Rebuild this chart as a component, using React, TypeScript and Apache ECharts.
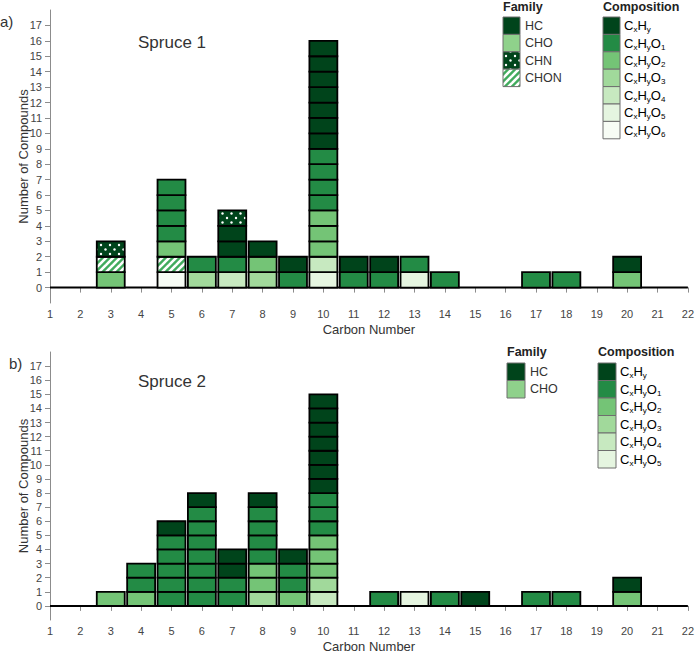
import React, { useEffect, useRef } from 'react';
import * as echarts from 'echarts';

// ---------- data ----------
const carbonTicks = [1, 22];
const yTickValues = [0, 1, 2, 3, 4, 5, 6, 7, 8, 9, 10, 11, 12, 13, 14, 15, 16, 17];

const spruce1Carbon = [3, 5, 6, 7, 8, 9, 10, 11, 12, 13, 14, 17, 18, 20];
const spruce1Stacks = [
  ['O2', 'CHON', 'CHN'],
  ['O6', 'CHON', 'O2', 'O1', 'O1', 'O1', 'O1'],
  ['O3', 'O1'],
  ['O4', 'O1', 'HC', 'HC', 'CHN'],
  ['O3', 'O2', 'HC'],
  ['O1', 'HC'],
  ['O5', 'O4', 'O2', 'O2', 'O2', 'O1', 'O1', 'O1', 'O1', 'HC', 'HC', 'HC', 'HC', 'HC', 'HC', 'HC'],
  ['O1', 'HC'],
  ['O1', 'HC'],
  ['O5', 'O1'],
  ['O1'],
  ['O1'],
  ['O1'],
  ['O2', 'HC'],
];

const spruce2Carbon = [3, 4, 5, 6, 7, 8, 9, 10, 12, 13, 14, 15, 17, 18, 20];
const spruce2Stacks = [
  ['O2'],
  ['O2', 'O1', 'O1'],
  ['O1', 'O1', 'O1', 'O1', 'O1', 'HC'],
  ['O1', 'O1', 'O1', 'O1', 'O1', 'O1', 'O1', 'HC'],
  ['O1', 'O1', 'HC', 'HC'],
  ['O3', 'O2', 'O2', 'O1', 'O1', 'O1', 'O1', 'HC'],
  ['O2', 'O1', 'O1', 'HC'],
  ['O4', 'O3', 'O2', 'O2', 'O2', 'O1', 'O1', 'O1', 'HC', 'HC', 'HC', 'HC', 'HC', 'HC', 'HC'],
  ['O1'],
  ['O5'],
  ['O1'],
  ['HC'],
  ['O1'],
  ['O1'],
  ['O2', 'HC'],
];

const family1 = [['HC', 'HC'], ['CHO', 'CHO'], ['CHN', 'CHN'], ['CHON', 'CHON']];
const family2 = [['HC', 'HC'], ['CHO', 'CHO']];
const comp1 = ['HC', 'O1', 'O2', 'O3', 'O4', 'O5', 'O6'];
const comp2 = ['HC', 'O1', 'O2', 'O3', 'O4', 'O5'];

const COLORS: Record<string, string> = {
  HC: '#00441b',
  O1: '#238b45',
  O2: '#74c476',
  O3: '#a1d99b',
  O4: '#c7e9c0',
  O5: '#e5f5e0',
  O6: '#f7fcf5',
  CHO: '#8fd18b',
};

function makeDots() {
  const c = document.createElement('canvas');
  c.width = 9;
  c.height = 9;
  const g = c.getContext('2d')!;
  g.fillStyle = COLORS.HC;
  g.fillRect(0, 0, 9, 9);
  g.fillStyle = '#ffffff';
  g.beginPath();
  g.arc(2, 2, 1.2, 0, Math.PI * 2);
  g.fill();
  g.beginPath();
  g.arc(6.5, 6.5, 1.2, 0, Math.PI * 2);
  g.fill();
  return c;
}

function makeStripes() {
  const s = 7;
  const c = document.createElement('canvas');
  c.width = s;
  c.height = s;
  const g = c.getContext('2d')!;
  g.fillStyle = '#41ab5d';
  g.fillRect(0, 0, s, s);
  g.strokeStyle = '#ffffff';
  g.lineWidth = 2.6;
  for (const k of [0, s, 2 * s]) {
    g.beginPath();
    g.moveTo(-1, k + 1);
    g.lineTo(k + 1, -1);
    g.stroke();
  }
  return c;
}

function buildItems(carbons: number[], stacks: string[][]) {
  const items: { value: number[]; code: string }[] = [];
  carbons.forEach((c, i) => {
    stacks[i].forEach((code, j) => {
      items.push({ value: [c, j, j + 1], code });
    });
  });
  return items;
}

function compLabel(code: string) {
  if (code === 'HC') return '{n|C}{s|x}{n|H}{s|y}';
  return '{n|C}{s|x}{n|H}{s|y}{n|O}{s|' + code.slice(1) + '}';
}

export default function App() {
  const ref = useRef<HTMLDivElement>(null);

  useEffect(() => {
    if (!ref.current) return;
    const chart = echarts.init(ref.current, null, { renderer: 'svg' });
    const dots = makeDots();
    const stripes = makeStripes();
    const fillFor = (code: string): any => {
      if (code === 'CHN') return { image: dots, repeat: 'repeat', imageWidth: 9, imageHeight: 9 };
      if (code === 'CHON') return { image: stripes, repeat: 'repeat', imageWidth: 7, imageHeight: 7 };
      return COLORS[code];
    };

    const font = 'Liberation Sans, Arial, sans-serif';
    const items1 = buildItems(spruce1Carbon, spruce1Stacks);
    const items2 = buildItems(spruce2Carbon, spruce2Stacks);

    const makeRender = (items: { value: number[]; code: string }[]) => (params: any, api: any) => {
      const x = api.value(0);
      const y0 = api.value(1);
      const y1 = api.value(2);
      const p0 = api.coord([x - 0.46, y0]);
      const p1 = api.coord([x + 0.46, y1]);
      return {
        type: 'rect',
        shape: { x: p0[0], y: p1[1], width: p1[0] - p0[0], height: p0[1] - p1[1] },
        style: { fill: fillFor(items[params.dataIndex].code), stroke: '#000', lineWidth: 1.8 },
      };
    };

    const xAxisCommon = (gridIndex: number) => ({
      type: 'value',
      gridIndex,
      min: carbonTicks[0],
      max: carbonTicks[1],
      interval: 1,
      name: 'Carbon Number',
      nameLocation: 'middle',
      nameGap: 20,
      nameMoveOverlap: false,
      nameTextStyle: { fontFamily: font, fontSize: 13, color: '#333' },
      axisLine: { lineStyle: { color: '#8c8c8c', width: 1 } },
      axisTick: { length: 5, lineStyle: { color: '#8c8c8c' } },
      axisLabel: { fontFamily: font, fontSize: 11, color: '#444', margin: 5 },
      splitLine: { show: false },
    });

    const yAxisCommon = (gridIndex: number) => ({
      type: 'value',
      gridIndex,
      min: -1,
      max: 18,
      interval: 1,
      name: 'Number of Compounds',
      nameLocation: 'middle',
      nameGap: 20,
      nameMoveOverlap: false,
      nameTextStyle: { fontFamily: font, fontSize: 13, color: '#333' },
      axisLine: { show: true, lineStyle: { color: '#8c8c8c', width: 1 } },
      axisTick: { show: true, length: 5, lineStyle: { color: '#8c8c8c' }, customValues: yTickValues },
      axisLabel: {
        fontFamily: font,
        fontSize: 11,
        color: '#444',
        margin: 8,
        customValues: yTickValues,
        formatter: (v: number) => (v < 0 || v > 17 ? '' : String(v)),
      },
      splitLine: { show: false },
    });

    const rich = {
      n: { fontFamily: font, fontSize: 13, color: '#333', lineHeight: 16, verticalAlign: 'middle' },
      s: { fontFamily: font, fontSize: 8, color: '#333', verticalAlign: 'bottom' },
    };

    const graphics: any[] = [];
    const addText = (text: string, x: number, y: number, size: number, weight = 'normal') => {
      graphics.push({
        type: 'text',
        x,
        y,
        style: {
          text,
          fontFamily: font,
          fontSize: size,
          fontWeight: weight,
          fill: weight === 'bold' ? '#222' : '#333',
          textAlign: 'left',
          textVerticalAlign: 'middle',
          verticalAlign: 'middle',
        },
      });
    };
    const addLegend = (
      fam: string[][],
      comp: string[],
      famX: number,
      compX: number,
      titleY: number,
      top: number,
      w: number,
      h: number,
    ) => {
      addText('Family', famX, titleY, 12.5, 'bold');
      addText('Composition', compX, titleY, 12.5, 'bold');
      fam.forEach(([label, code], i) => {
        graphics.push({
          type: 'rect',
          shape: { x: famX, y: top + i * h, width: w, height: h },
          style: { fill: fillFor(code), stroke: '#6e6e6e', lineWidth: 1 },
        });
        addText(label, famX + w + 5, top + i * h + h / 2, 12.5);
      });
      comp.forEach((code, i) => {
        graphics.push({
          type: 'rect',
          shape: { x: compX, y: top + i * h, width: w, height: h },
          style: { fill: fillFor(code), stroke: '#6e6e6e', lineWidth: 1 },
        });
        graphics.push({
          type: 'text',
          x: compX + w + 4,
          y: top + i * h + h / 2,
          style: {
            text: compLabel(code),
            rich,
            textAlign: 'left',
            textVerticalAlign: 'middle',
            verticalAlign: 'middle',
          },
        });
      });
    };

    addText('a)', 0, 21, 15);
    addText('b)', 9, 363, 15);
    addText('Spruce 1', 138, 42, 17);
    addText('Spruce 2', 138, 381, 17);
    addLegend(family1, comp1, 503, 603, 7, 17, 17, 17.4);
    addLegend(family2, comp2, 507, 598, 352, 363, 18, 17.5);

    chart.setOption({
      animation: false,
      grid: [
        { left: 50, top: 10, width: 640, height: 293, containLabel: false },
        { left: 50, top: 352, width: 640, height: 271, containLabel: false },
      ],
      xAxis: [xAxisCommon(0), xAxisCommon(1)],
      yAxis: [yAxisCommon(0), yAxisCommon(1)],
      series: [
        {
          type: 'line',
          xAxisIndex: 0,
          yAxisIndex: 0,
          data: [[carbonTicks[0], 0], [carbonTicks[1], 0]],
          symbol: 'none',
          silent: true,
          lineStyle: { color: '#000', width: 2 },
          z: 1,
        },
        {
          type: 'line',
          xAxisIndex: 1,
          yAxisIndex: 1,
          data: [[carbonTicks[0], 0], [carbonTicks[1], 0]],
          symbol: 'none',
          silent: true,
          lineStyle: { color: '#000', width: 2 },
          z: 1,
        },
        {
          type: 'custom',
          xAxisIndex: 0,
          yAxisIndex: 0,
          data: items1.map((d) => d.value),
          encode: { x: 0, y: [1, 2] },
          renderItem: makeRender(items1),
          z: 3,
        },
        {
          type: 'custom',
          xAxisIndex: 1,
          yAxisIndex: 1,
          data: items2.map((d) => d.value),
          encode: { x: 0, y: [1, 2] },
          renderItem: makeRender(items2),
          z: 3,
        },
      ],
      graphic: graphics,
    });

    return () => chart.dispose();
  }, []);

  return (
    <div
      ref={ref}
      style={{ position: 'absolute', left: 0, top: 0, width: 697, height: 654, background: '#fff' }}
    />
  );
}
